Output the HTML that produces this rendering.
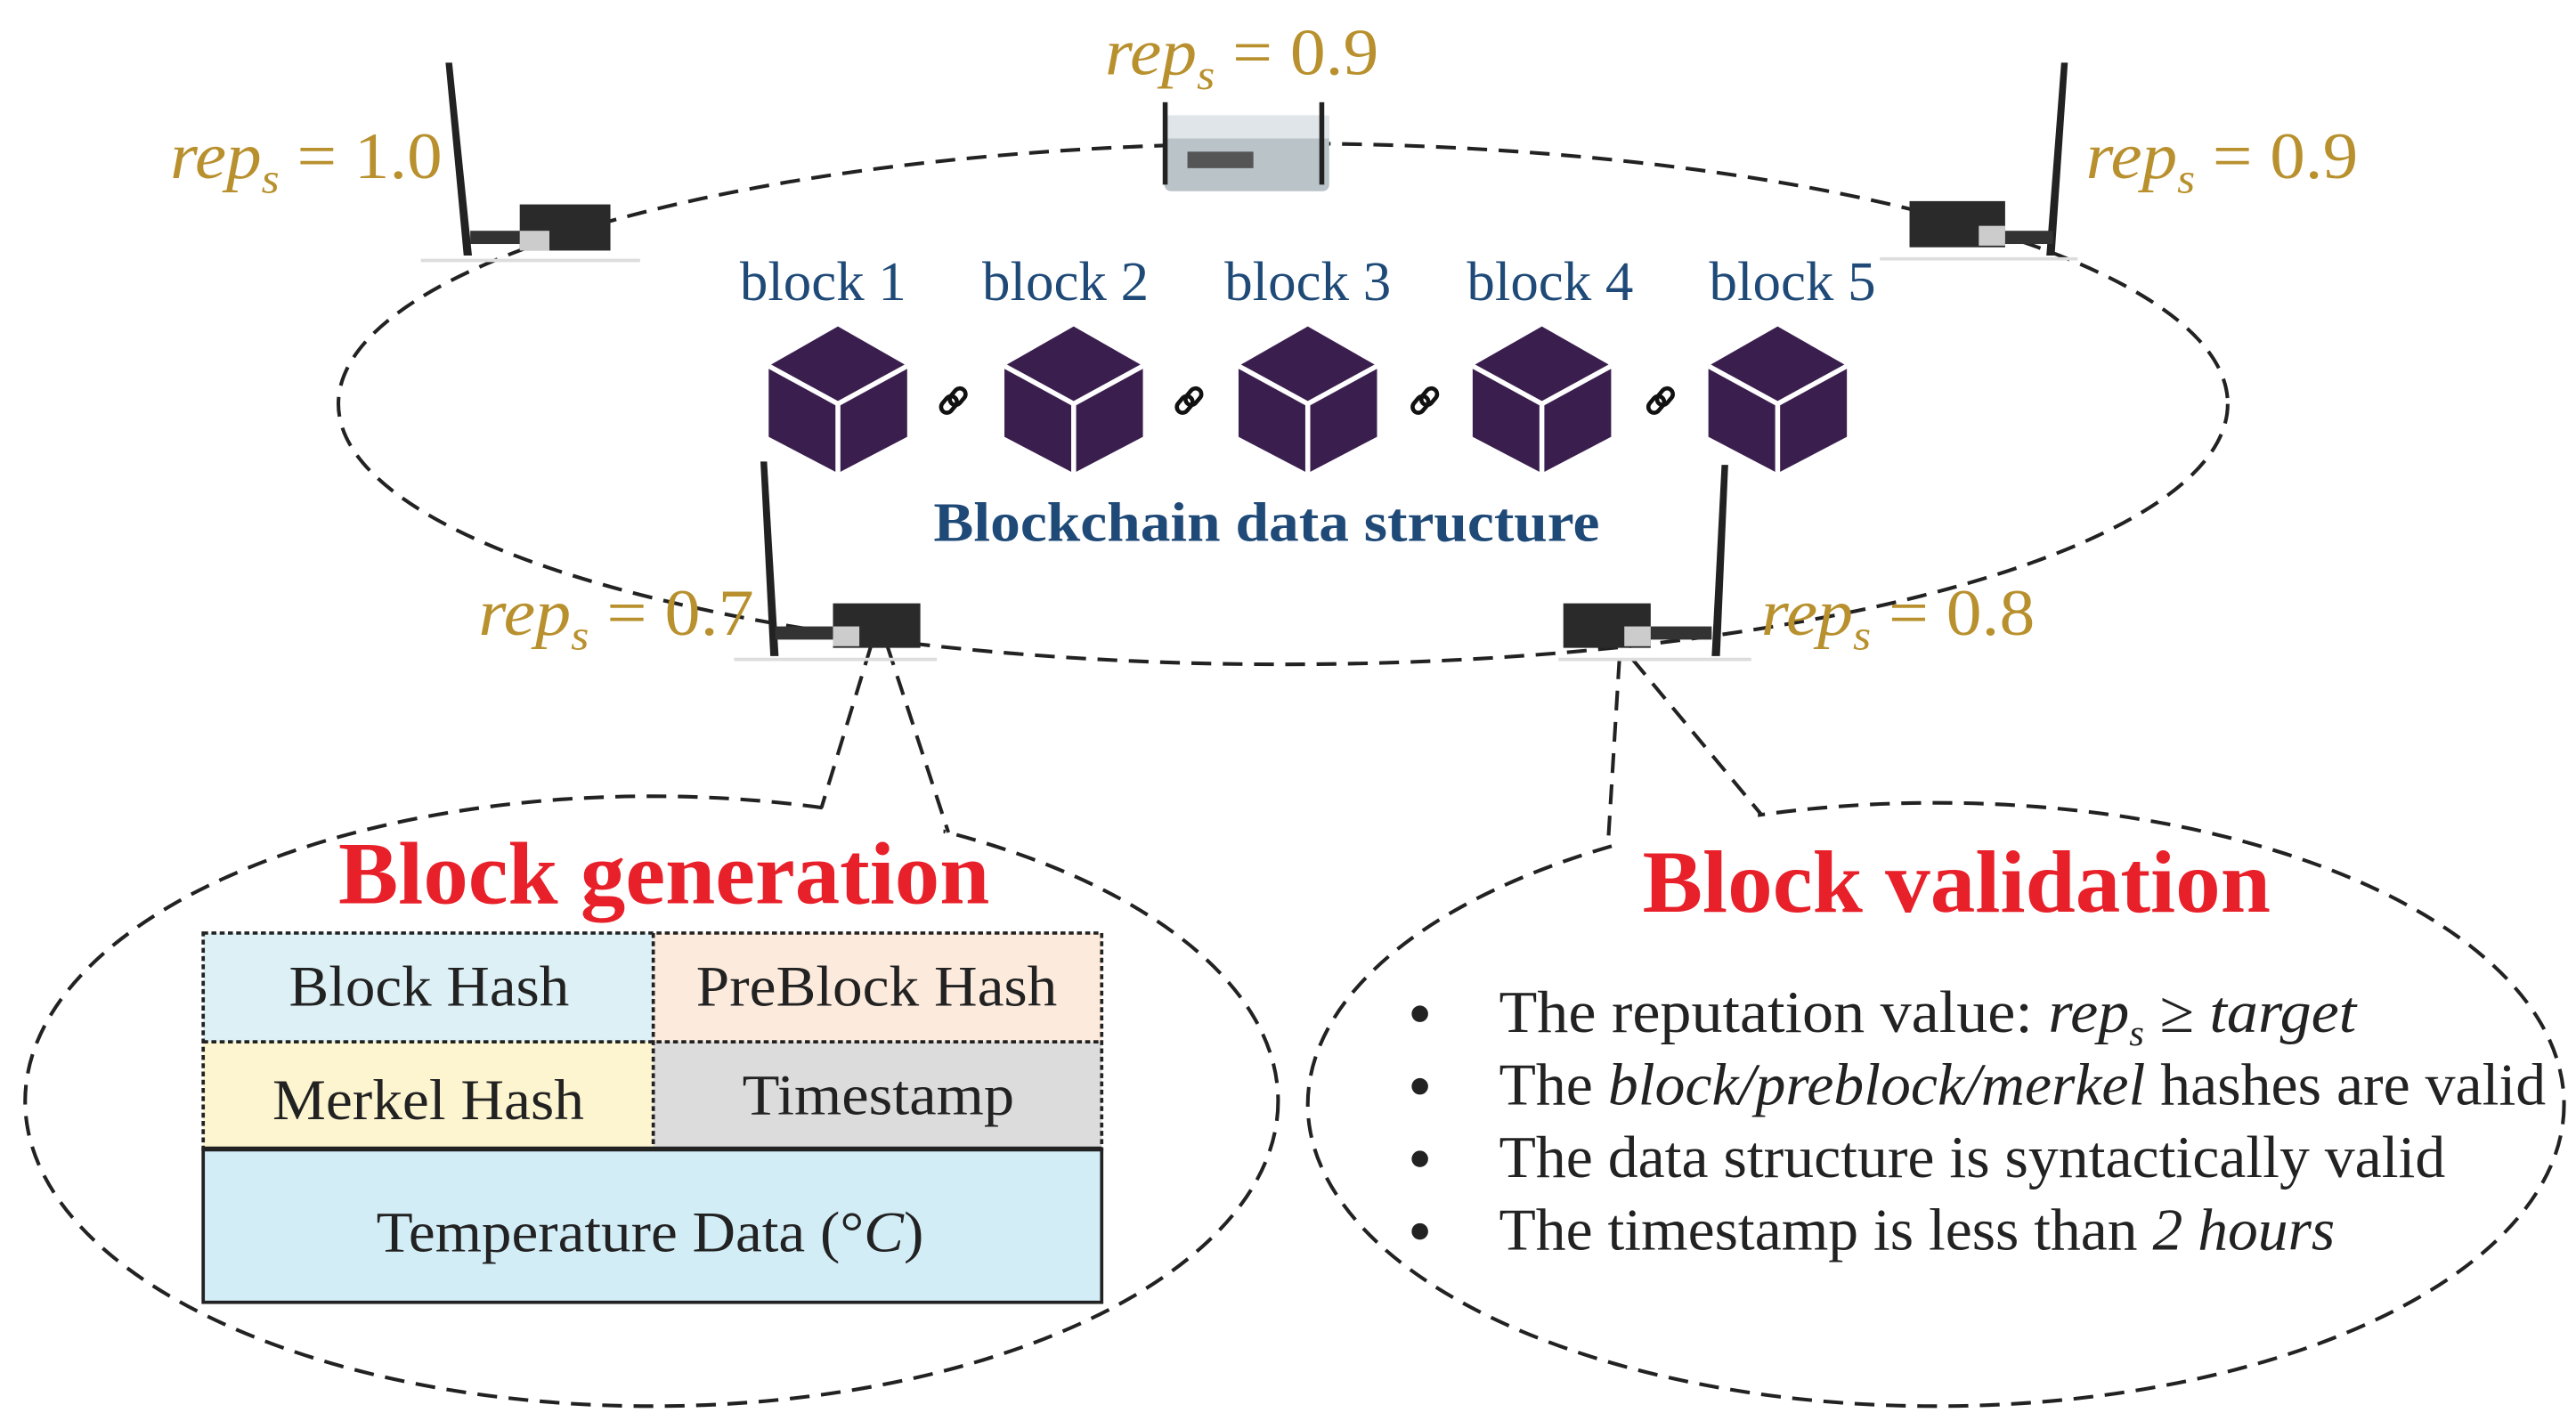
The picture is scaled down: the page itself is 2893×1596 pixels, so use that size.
<!DOCTYPE html>
<html><head><meta charset="utf-8"><style>
html,body{margin:0;padding:0;background:#fff}
svg{display:block}
text{font-family:"Liberation Serif",serif}
</style></head><body>
<svg width="2893" height="1596" viewBox="0 0 1562 862" xmlns="http://www.w3.org/2000/svg">
<g fill="none" stroke="#222" stroke-width="2.2" stroke-dasharray="12,7">
<ellipse cx="778" cy="245" rx="573" ry="158"/>
<ellipse cx="395" cy="668" rx="380" ry="185"/>
<ellipse cx="1174" cy="670" rx="381" ry="183"/>
</g>
<polygon points="502,478 572,478 572,512 502,502" fill="#fff"/>
<polygon points="978,500 1066,480 1066,498 978,522" fill="#fff"/>
<g fill="none" stroke="#222" stroke-width="2.2" stroke-dasharray="12,7">
<path d="M528,392 L498,490"/>
<path d="M538,392 L575,505"/>
<path d="M982,400 L975,514"/>
<path d="M990,400 L1068,494"/>
</g>
<!-- devices -->
<g>
<path d="M270,38 L274,38 L286,155 L281,155 Z" fill="#222"/>
<rect x="285" y="140" width="35" height="8" fill="#333"/>
<rect x="315" y="124" width="55" height="28" fill="#2a2a2a"/>
<rect x="315" y="140" width="18" height="12" fill="#ccc"/>
<line x1="255" y1="158" x2="388" y2="158" stroke="#ddd" stroke-width="2"/>

<path d="M1250,38 L1254,38 L1246,155 L1241,155 Z" fill="#222"/>
<rect x="1210" y="140" width="35" height="8" fill="#333"/>
<rect x="1158" y="122" width="58" height="28" fill="#2a2a2a"/>
<rect x="1200" y="137" width="16" height="12" fill="#ccc"/>
<line x1="1140" y1="157" x2="1260" y2="157" stroke="#ddd" stroke-width="2"/>

<path d="M461,280 L465,280 L472,398 L467,398 Z" fill="#222"/>
<rect x="470" y="380" width="35" height="8" fill="#333"/>
<rect x="505" y="366" width="53" height="27" fill="#2a2a2a"/>
<rect x="505" y="380" width="16" height="12" fill="#ccc"/>
<line x1="445" y1="400" x2="568" y2="400" stroke="#ddd" stroke-width="2"/>

<path d="M1044,282 L1048,282 L1043,398 L1038,398 Z" fill="#222"/>
<rect x="1000" y="380" width="38" height="8" fill="#333"/>
<rect x="948" y="366" width="53" height="27" fill="#2a2a2a"/>
<rect x="985" y="380" width="16" height="12" fill="#ccc"/>
<line x1="945" y1="400" x2="1062" y2="400" stroke="#ddd" stroke-width="2"/>

<rect x="706" y="70" width="100" height="46" rx="4" fill="#b9c3c8"/>
<rect x="706" y="70" width="100" height="14" fill="#dfe5e8"/>
<rect x="720" y="92" width="40" height="10" fill="#555"/>
<rect x="705" y="62" width="3" height="50" fill="#222"/>
<rect x="800" y="62" width="3" height="50" fill="#222"/>
</g>
<!-- cubes -->
<g>
<defs>
<g id="cube">
<path d="M0,24 L42,0 L84,24 L84,67 L42,89 L0,67 Z" fill="#3a1f4e"/>
<path d="M0,24 L42,47 L84,24 M42,47 L42,89" stroke="#fff" stroke-width="3" fill="none"/>
</g>
<g id="link" fill="none" stroke="#111" stroke-width="2.5">
<rect x="-9" y="-4" width="11" height="7" rx="3.5" transform="rotate(-50)"/>
<rect x="-2" y="-3" width="11" height="7" rx="3.5" transform="rotate(-50)"/>
</g>
</defs>
<use href="#cube" x="466" y="198"/>
<use href="#cube" x="609" y="198"/>
<use href="#cube" x="751" y="198"/>
<use href="#cube" x="893" y="198"/>
<use href="#cube" x="1036" y="198"/>
<use href="#link" x="578" y="243"/>
<use href="#link" x="721" y="243"/>
<use href="#link" x="864" y="243"/>
<use href="#link" x="1007" y="243"/>
</g>
<g fill="#1f4a78" font-size="34" text-anchor="middle">
<text x="499" y="182">block 1</text>
<text x="646" y="182">block 2</text>
<text x="793" y="182">block 3</text>
<text x="940" y="182">block 4</text>
<text x="1087" y="182">block 5</text>
<text x="768" y="328" font-weight="bold" font-size="34" textLength="404" lengthAdjust="spacingAndGlyphs">Blockchain data structure</text>
</g>
<g fill="#b8902e" font-size="40">
<text x="670" y="45" textLength="166" lengthAdjust="spacingAndGlyphs"><tspan font-style="italic">rep</tspan><tspan font-style="italic" font-size="26" dy="9">s</tspan><tspan dy="-9"> = 0.9</tspan></text>
<text x="103" y="108" textLength="165" lengthAdjust="spacingAndGlyphs"><tspan font-style="italic">rep</tspan><tspan font-style="italic" font-size="26" dy="9">s</tspan><tspan dy="-9"> = 1.0</tspan></text>
<text x="1265" y="108" textLength="165" lengthAdjust="spacingAndGlyphs"><tspan font-style="italic">rep</tspan><tspan font-style="italic" font-size="26" dy="9">s</tspan><tspan dy="-9"> = 0.9</tspan></text>
<text x="290" y="385" textLength="167" lengthAdjust="spacingAndGlyphs"><tspan font-style="italic">rep</tspan><tspan font-style="italic" font-size="26" dy="9">s</tspan><tspan dy="-9"> = 0.7</tspan></text>
<text x="1068" y="385" textLength="166" lengthAdjust="spacingAndGlyphs"><tspan font-style="italic">rep</tspan><tspan font-style="italic" font-size="26" dy="9">s</tspan><tspan dy="-9"> = 0.8</tspan></text>
</g>
<!-- Block generation -->
<text x="205" y="548" fill="#e8202a" font-size="54" font-weight="bold" textLength="395" lengthAdjust="spacingAndGlyphs">Block generation</text>
<rect x="123" y="566" width="273" height="66" fill="#dcf0f5"/>
<rect x="396" y="566" width="272" height="66" fill="#fcebdd"/>
<rect x="123" y="632" width="273" height="65" fill="#fdf5d0"/>
<rect x="396" y="632" width="272" height="65" fill="#dcdcdd"/>
<rect x="123" y="697" width="545" height="93" fill="#d3edf7" stroke="#222" stroke-width="2"/>
<g fill="none" stroke="#222" stroke-width="2" stroke-dasharray="3,2">
<rect x="123" y="566" width="545" height="131"/>
<line x1="123" y1="632" x2="668" y2="632"/>
<line x1="396" y1="566" x2="396" y2="697"/>
</g>
<line x1="123" y1="697" x2="668" y2="697" stroke="#222" stroke-width="3"/>
<g fill="#222" font-size="35">
<text x="175" y="610" textLength="170" lengthAdjust="spacingAndGlyphs">Block Hash</text>
<text x="422" y="610" textLength="219" lengthAdjust="spacingAndGlyphs">PreBlock Hash</text>
<text x="165" y="679" textLength="189" lengthAdjust="spacingAndGlyphs">Merkel Hash</text>
<text x="450" y="676" textLength="165" lengthAdjust="spacingAndGlyphs">Timestamp</text>
<text x="228" y="759" textLength="332" lengthAdjust="spacingAndGlyphs">Temperature Data (°<tspan font-style="italic">C</tspan>)</text>
</g>
<!-- Block validation -->
<text x="996" y="553" fill="#e8202a" font-size="54" font-weight="bold" textLength="381" lengthAdjust="spacingAndGlyphs">Block validation</text>
<g fill="#222" font-size="36">
<circle cx="861" cy="615" r="5"/>
<circle cx="861" cy="659" r="5"/>
<circle cx="861" cy="703" r="5"/>
<circle cx="861" cy="747" r="5"/>
<text x="909" y="626" textLength="520" lengthAdjust="spacingAndGlyphs">The reputation value:  <tspan font-style="italic">rep</tspan><tspan font-style="italic" font-size="22" dy="8">s</tspan><tspan dy="-8"> ≥  </tspan><tspan font-style="italic">target</tspan></text>
<text x="909" y="670" textLength="635" lengthAdjust="spacingAndGlyphs">The <tspan font-style="italic">block/preblock/merkel</tspan> hashes are valid</text>
<text x="909" y="714" textLength="574" lengthAdjust="spacingAndGlyphs">The data structure is syntactically valid</text>
<text x="909" y="758" textLength="507" lengthAdjust="spacingAndGlyphs">The timestamp is less than <tspan font-style="italic">2 hours</tspan></text>
</g>
</svg>
</body></html>
